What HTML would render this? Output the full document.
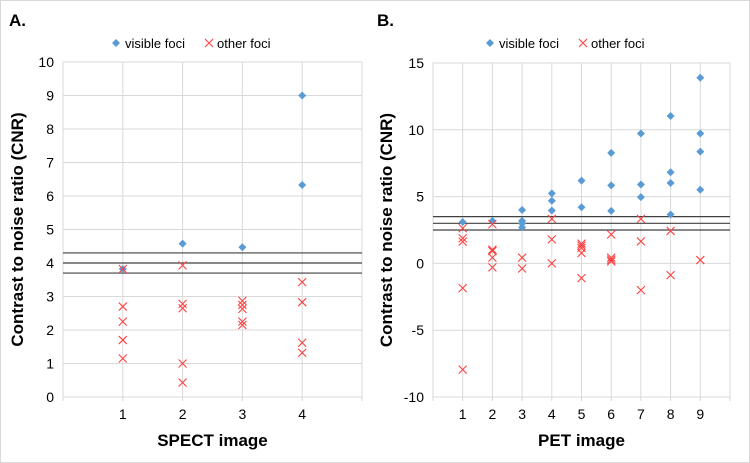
<!DOCTYPE html>
<html><head><meta charset="utf-8"><style>
body{margin:0;background:#fff}
svg{display:block;font-family:"Liberation Sans",Arial,sans-serif}
</style></head><body>
<svg id="c" width="750" height="463" viewBox="0 0 750 463">
<rect x="0.5" y="0.5" width="749" height="462" fill="#fff" stroke="#d9d9d9"/>
</svg>
<script>
const svgNS="http://www.w3.org/2000/svg";
const svg=document.getElementById('c');
// Panel A data
const aCats=[1,2,3,4];
const aVisX=[1,2,3,4,4];
const aVisY=[3.82,4.58,4.47,9.0,6.33];
const aOthX=[1,1,1,1,1,2,2,2,2,2,3,3,3,3,3,4,4,4,4];
const aOthY=[3.82,2.7,2.25,1.7,1.15,3.93,2.78,2.65,1.0,0.43,2.87,2.75,2.63,2.25,2.15,3.43,2.83,1.62,1.32];
const aTicks=[0,1,2,3,4,5,6,7,8,9,10];
const aThresh=[4.3,4.0,3.7];
// Panel B data
const bCats=[1,2,3,4,5,6,7,8,9];
const bVisX=[1,2,3,3,3,3,4,4,4,5,5,6,6,6,7,7,7,8,8,8,8,9,9,9,9];
const bVisY=[3.1,3.18,4.0,3.18,3.0,2.7,5.24,4.69,3.96,6.2,4.2,8.27,5.84,3.93,9.72,5.91,4.96,11.03,6.82,6.02,3.66,13.9,9.72,8.37,5.51];
const bOthX=[1,1,1,1,1,2,2,2,2,2,3,3,4,4,4,5,5,5,5,5,6,6,6,6,7,7,7,8,8,9];
const bOthY=[2.63,1.88,1.63,-1.85,-7.95,2.93,1.03,0.93,0.43,-0.3,0.43,-0.38,3.33,1.8,0,1.48,1.33,1.15,0.78,-1.1,2.16,0.43,0.28,0.15,3.33,1.65,-2.0,2.43,-0.88,0.25];
const bTicks=[-10,-5,0,5,10,15];
const bThresh=[3.5,3.0,2.5];

function el(tag,attrs,parent){const e=document.createElementNS(svgNS,tag);for(const k in attrs)e.setAttribute(k,attrs[k]);(parent||svg).appendChild(e);return e;}

function panel(o){
  const g=el('g',{});
  
  
  const sx=v=>o.x0+(v-o.xmin)/(o.xmax-o.xmin)*(o.x1-o.x0);
  const sy=v=>o.y0-(v-o.ymin)/(o.ymax-o.ymin)*(o.y0-o.y1);
  o.ticks.forEach(t=>{
    const l=el('line',{x1:o.x0,x2:o.x1,y1:sy(t),y2:sy(t),stroke:'#d9d9d9','stroke-width':1},g);
    
    const tx=el('text',{x:o.x0-9,y:sy(t)+5,'text-anchor':'end','font-size':14,fill:'#000'},g);
    tx.textContent=t;
    
  });
  for(let i=o.xmin;i<=o.xmax;i++){
    const l=el('line',{x1:sx(i),x2:sx(i),y1:o.y1,y2:o.y0+4,stroke:'#d9d9d9','stroke-width':1},g);
    
  }
  o.cats.forEach(c=>{
    const tx=el('text',{x:sx(c),y:o.y0+22,'text-anchor':'middle','font-size':14,fill:'#000'},g);
    tx.textContent=c;
    
  });
  o.thresh.forEach(t=>{
    const l=el('line',{x1:o.x0,x2:o.x1,y1:sy(t),y2:sy(t),stroke:'#404040','stroke-width':1.2},g);
    
  });
  o.visX.forEach((x,i)=>{
    const cx=sx(x),cy=sy(o.visY[i]);
    const p=el('path',{d:`M${cx},${cy-4}L${cx+4},${cy}L${cx},${cy+4}L${cx-4},${cy}Z`,fill:'#5b9bd5'},g);
    
  });
  o.othX.forEach((x,i)=>{
    const cx=sx(x),cy=sy(o.othY[i]);
    const p=el('path',{d:`M${cx-4},${cy-4}L${cx+4},${cy+4}M${cx-4},${cy+4}L${cx+4},${cy-4}`,stroke:'#ff4040','stroke-width':1.1,fill:'none'},g);
    
  });
  const lx=o.legX;
  const d=el('path',{d:`M${lx},39L${lx+4},43L${lx},47L${lx-4},43Z`,fill:'#5b9bd5'},g);
  
  const t1=el('text',{x:lx+9,y:48,'font-size':13},g);t1.textContent='visible foci';
  
  const x2=lx+93;
  const m=el('path',{d:`M${x2-4},39L${x2+4},47M${x2-4},47L${x2+4},39`,stroke:'#ff4040','stroke-width':1.1},g);
  
  const t2=el('text',{x:x2+8,y:48,'font-size':13},g);t2.textContent='other foci';
  
  const xt=el('text',{x:(o.x0+o.x1)/2,y:446,'text-anchor':'middle','font-size':17,'font-weight':'bold'},g);
  xt.textContent=o.xtitle;
  const cyM=(o.y0+o.y1)/2;
  const yt=el('text',{x:o.ytX,y:cyM,'text-anchor':'middle','font-size':17,'font-weight':'bold',transform:`rotate(-90 ${o.ytX} ${cyM})`},g);
  yt.textContent='Contrast to noise ratio (CNR)';
  const pl=el('text',{x:o.plX,y:26,'font-size':17,'font-weight':'bold'},g);
  pl.textContent=o.label;
}
panel({name:'panel-a-spect',x0:63,x1:362,y0:397,y1:62,xmin:0,xmax:5,ymin:0,ymax:10,ticks:aTicks,cats:aCats,thresh:aThresh,visX:aVisX,visY:aVisY,othX:aOthX,othY:aOthY,legX:116,xtitle:'SPECT image',ytX:23,plX:9,label:'A.'});
panel({name:'panel-b-pet',x0:433,x1:730,y0:397,y1:63,xmin:0,xmax:10,ymin:-10,ymax:15,ticks:bTicks,cats:bCats,thresh:bThresh,visX:bVisX,visY:bVisY,othX:bOthX,othY:bOthY,legX:490,xtitle:'PET image',ytX:392,plX:377,label:'B.'});
</script>
</body></html>
